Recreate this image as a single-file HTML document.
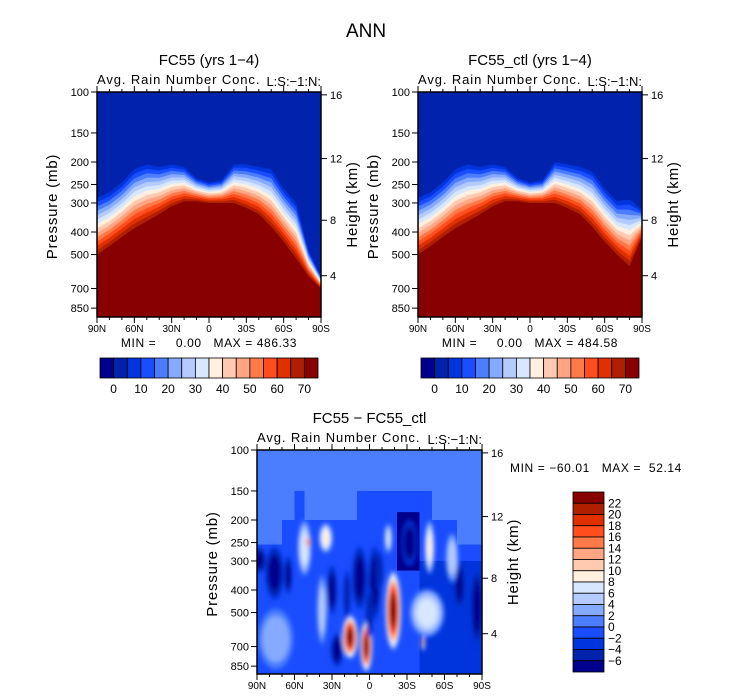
<!DOCTYPE html>
<html><head><meta charset="utf-8"><style>
html,body{margin:0;padding:0;background:#fff;overflow:hidden;width:733px;height:699px}
svg{display:block}
svg text{font-family:"Liberation Sans",sans-serif;fill:#000}
</style></head><body>
<svg id="s" width="733" height="699" viewBox="0 0 733 699" xmlns="http://www.w3.org/2000/svg">
<defs>
<filter id="bl" x="-50%" y="-50%" width="200%" height="200%"><feGaussianBlur stdDeviation="2"/></filter>
<clipPath id="cp3"><rect x="257" y="450" width="225" height="224"/></clipPath>
</defs>
<text x="366" y="37" font-size="19" text-anchor="middle">ANN</text>
</svg>
<script>
const palette=["#00008c","#0022ad","#0034dc","#1a4dff","#4a7dff","#85aaff","#b4cbff","#d6e7ff","#fff0e0","#ffcab0","#ffa584","#ff7a48","#ff4d1e","#e03000","#b02000","#880000"];
const lats=[90,80,70,60,50,40,30,20,10,0,-10,-20,-30,-40,-50,-60,-70,-80,-90];
const edgeA=[285,270,245,215,205,210,205,210,235,245,240,205,205,210,215,260,300,480,620];
const redA=[500,460,420,385,360,335,310,295,295,300,300,300,315,335,380,440,520,620,700];
const edgeB=[285,270,245,215,205,210,205,210,235,245,240,200,205,210,220,260,295,290,320];
const redB=[500,460,420,385,360,335,310,295,295,300,300,300,315,335,380,440,500,560,420];
const pTicks=[100,150,200,250,300,400,500,700,850];
const hTicks=[4,8,12,16];
const latTicks=[90,60,30,0,-30,-60,-90];
const latLabels=["90N","60N","30N","0","30S","60S","90S"];
const cbTopLabels=["0","10","20","30","40","50","60","70"];
const cbBotLabels=["22","20","18","16","14","12","10","8","6","4","2","0","−2","−4","−6"];
// difference anomalies: lat, pressure (mb), value, half-width (deg), half-height (px)
const blobLat=[75,75,88,76,8,-4,-32,26,-86,-72,30,65,52,35,-15,38,-66,-46,15.6,2.6,-19,49,-48,-43,0,-8,18];
const blobP=[650,650,297,338,355,373,251,725,473,380,400,345,264,239,240,487,290,502,637,697,490,249,262,675,500,330,420];
const blobV=[3,3,-8,-8,-8,-8,-8,-8,-8,-8,-8,-8,7,8,7,5,5,7,26,26,26,16,9,14,-6,-6,-5];
const blobW=[14,14,5,7.5,6,5,6.5,5,5,4,4,3,5.5,5.5,3,4,5,14,6.4,5,6.5,2,4,1.5,3,3,3];
const blobH=[30,30,13,27,32,37,23,17,40,25,25,20,28,15,15,35,25,24,22,26,40,8,27,8,25,20,25];

const S=document.getElementById('s');
const NS="http://www.w3.org/2000/svg";
function el(tag,at,parent){const e=document.createElementNS(NS,tag);for(const k in at)e.setAttribute(k,at[k]);(parent||S).appendChild(e);return e;}
function txt(x,y,s,size,anchor,parent){const t=el('text',{x:x,y:y,'font-size':size,'text-anchor':anchor||'start'},parent);t.textContent=s;return t;}
function h2p(h){const m=h*1000;return m<11000?1013.25*Math.pow(1-2.2558e-5*m,5.2559):226.32*Math.exp(-(m-11000)/6341.6);}
function idxForDiff(v){return Math.max(0,Math.min(15,Math.floor((v+8)/2)));}

function panel(x0,y0,w,h,title,id){
  const xs=lat=>x0+(90-lat)/180*w;
  const ys=p=>y0+101*Math.log(p/100);
  const g=el('g',{});
  
  
  const t=txt(x0+w/2,y0-27,title,15,'middle',g);
  
  
  const st=txt(x0,y0-8,"Avg. Rain Number Conc.",13,'start',g);
  st.setAttribute('letter-spacing','0.9');
  
  
  const lb=txt(x0+w,y0-6,"L:S:−1:N:",13,'end',g);
  
  
  return {g,xs,ys};
}
function axes(P,x0,y0,w,h,id){
  const g=P.g;
  const fr=el('rect',{x:x0,y:y0,width:w,height:h,fill:'none',stroke:'#000','stroke-width':1.5},g);
  
  
  pTicks.forEach(p=>{const y=P.ys(p);el('line',{x1:x0-6,x2:x0,y1:y,y2:y,stroke:'#000'},g);
    const t=txt(x0-8,y+4,String(p),11,'end',g);
    
    });
  hTicks.forEach(hh=>{const y=P.ys(h2p(hh));el('line',{x1:x0+w,x2:x0+w+6,y1:y,y2:y,stroke:'#000'},g);
    const t=txt(x0+w+9,y+4,String(hh),11,'start',g);
    
    });
  for(let lat=90;lat>=-90;lat-=10){const x=P.xs(lat);const L=(lat%30===0)?6:3;
    el('line',{x1:x,x2:x,y1:y0+h,y2:y0+h+L,stroke:'#000'},g);el('line',{x1:x,x2:x,y1:y0,y2:y0-L,stroke:'#000'},g);}
  latTicks.forEach((lat,i)=>{const t=txt(P.xs(lat),y0+h+15,latLabels[i],10,'middle',g);
    
    });
  const yl=txt(0,0,"Pressure (mb)",15,'middle',g);yl.setAttribute('transform',`translate(${x0-40},${y0+h/2+2}) rotate(-90)`);
  yl.setAttribute('letter-spacing','0.8');
  
  
  const yr=txt(0,0,"Height (km)",15,'middle',g);yr.setAttribute('transform',`translate(${x0+w+36},${y0+h/2}) rotate(-90)`);
  yr.setAttribute('letter-spacing','0.8');
  
  
}
function topPanel(x0,title,id,edge,red,mn,mx){
  const y0=92,w=224,h=225;
  const P=panel(x0,y0,w,h,title,id);
  const bg=el('rect',{x:x0,y:y0,width:w,height:h,fill:palette[1]},P.g);
  
  
  for(let i=2;i<16;i++){
    const t=(i-2)/13;
    let pts=lats.map((lat,k)=>{const lp=Math.log(edge[k])+t*(Math.log(red[k])-Math.log(edge[k]));return [P.xs(lat),Math.min(y0+h,P.ys(Math.exp(lp)))];});
    let d='M'+x0+','+(y0+h)+' '+pts.map(q=>'L'+q[0].toFixed(1)+','+q[1].toFixed(1)).join(' ')+' L'+(x0+w)+','+(y0+h)+'Z';
    const b=el('path',{d:d,fill:palette[i]},P.g);
    
    
  }
  axes(P,x0,y0,w,h,id);
  const m=txt(x0+w/2,y0+h+30,"MIN =     "+mn+"   MAX = "+mx,12,'middle',P.g);
  m.setAttribute('xml:space','preserve');m.style.whiteSpace='pre';
  m.setAttribute('letter-spacing','0.6');
  
  
  const cx=x0+3,cw=218/16;
  const cb=el('g',{});
  
  
  palette.forEach((c,i)=>el('rect',{x:cx+i*cw,y:358,width:cw,height:20,fill:c,stroke:'#000','stroke-width':0.8},cb));
  cbTopLabels.forEach((s,i)=>{const t=txt(cx+(2*i+1)*cw,393,s,12,'middle',cb);
    
    });
}
topPanel(97,"FC55 (yrs 1−4)","fc55",edgeA,redA,"0.00","486.33");
topPanel(418,"FC55_ctl (yrs 1−4)","fc55-ctl",edgeB,redB,"0.00","484.58");

(function(){
  const x0=257,y0=450,w=225,h=224,id='diff';
  const P=panel(x0,y0,w,h,"FC55 − FC55_ctl",id);
  const f=el('g',{'clip-path':'url(#cp3)'},P.g);
  
  
  const yb=y0+h;
  function band(l1,l2,p1,p2,c){const ya=P.ys(p1),yb2=p2?P.ys(p2):yb;el('rect',{x:P.xs(l1),y:ya,width:P.xs(l2)-P.xs(l1),height:yb2-ya,fill:c},f);}
  el('rect',{x:x0,y:y0,width:w,height:h,fill:palette[4]},f);
  band(60,52,150,null,palette[3]);
  band(10,-50,150,null,palette[3]);
  band(70,-70,200,null,palette[3]);
  band(90,-90,255,null,palette[3]);
  band(-40,-90,300,null,palette[2]);
  band(-22,-40,185,330,palette[0]);
  const bg=el('g',{filter:'url(#bl)'},f);
  const base=-1;
  blobLat.forEach((lat,i)=>{
    const cx=P.xs(lat), cy=P.ys(blobP[i]);
    const rx=blobW[i]/180*w, ry=Math.min(blobH[i],yb-cy+10);
    const target=idxForDiff(blobV[i]), b0=idxForDiff(base);
    const n=Math.abs(target-b0);
    const dir=target>b0?1:-1;
    for(let k=1;k<=n;k++){
      const s=Math.sqrt(1-(k-1)/(n+0.5));
      const e=el('ellipse',{cx:cx,cy:cy,rx:rx*s,ry:ry*s,fill:palette[b0+dir*k]},bg);
      
      
    }
  });
  axes(P,x0,y0,w,h,id);
  const m=txt(510,472,"MIN = −60.01   MAX =  52.14",12,'start',P.g);
  m.style.whiteSpace='pre';
  m.setAttribute('letter-spacing','0.6');
  
  
  const cb=el('g',{});
  
  
  const ch=180/16;
  palette.slice().reverse().forEach((c,i)=>el('rect',{x:573,y:492+i*ch,width:31,height:ch,fill:c,stroke:'#000','stroke-width':0.8},cb));
  cbBotLabels.forEach((s,i)=>{const t=txt(608,492+(i+1)*ch+4,s,12,'start',cb);
    
    });
})();
</script>
</body></html>
